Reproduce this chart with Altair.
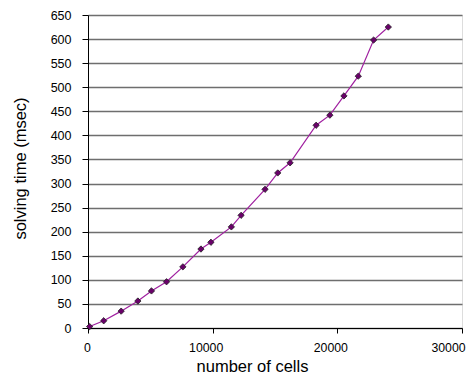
import altair as alt
import pandas as pd

cells = [130, 1260, 2660, 4000, 5090, 6300, 7610, 9060, 9860, 11500, 12280,
         14200, 15220, 16210, 18300, 19400, 20530, 21680, 22910, 24090]
times = [3, 15, 35, 56, 77, 96, 127, 164, 178, 210, 234,
         288, 322, 343, 421, 442, 482, 523, 598, 625]

df = pd.DataFrame({"cells": cells, "time": times})

FONT = "Liberation Sans"

x = alt.X("cells:Q", title="number of cells",
          scale=alt.Scale(domain=[0, 30000], nice=False),
          axis=alt.Axis(values=[0, 10000, 20000, 30000], grid=False, format="d",
                        domainColor="#000", tickColor="#000", tickSize=5,
                        labelFont=FONT, labelFontSize=12.3, labelColor="#000",
                        labelOffset=alt.ExprRef(
                            "datum.value == 0 ? -1 : (datum.value == 30000 ? -14 : -7)"),
                        titleFont=FONT, titleFontSize=16.5, titleFontWeight="normal",
                        titleColor="#000", labelPadding=8, titleX=164, titleY=30,
                        labelFlush=False))
y = alt.Y("time:Q", title="solving time (msec)",
          scale=alt.Scale(domain=[0, 650], nice=False),
          axis=alt.Axis(values=list(range(0, 651, 50)), grid=True,
                        gridColor="#6e6e6e", gridWidth=1.4,
                        domainColor="#000", tickColor="#000", tickSize=6,
                        labelFont=FONT, labelFontSize=12.5, labelColor="#000",
                        titleFont=FONT, titleFontSize=16.5, titleFontWeight="normal",
                        titleColor="#000", labelPadding=11, titleX=-60, titleY=153))

line = alt.Chart(df).mark_line(color="#a020a0", strokeWidth=1.2).encode(x=x, y=y)
pts = alt.Chart(df).mark_point(shape="diamond", filled=True, size=40,
                               color="#6a006a", stroke="#222", strokeWidth=0.8,
                               opacity=1).encode(x=x, y=y)

chart = (line + pts).properties(
    width=374, height=313,
    autosize=alt.AutoSizeParams(type="none"),
    padding={"left": 80, "top": 7, "right": 5, "bottom": 46},
).configure_view(stroke=None).configure(background="white")

chart.save("out.html", embed_options={"renderer": "svg", "actions": False})
